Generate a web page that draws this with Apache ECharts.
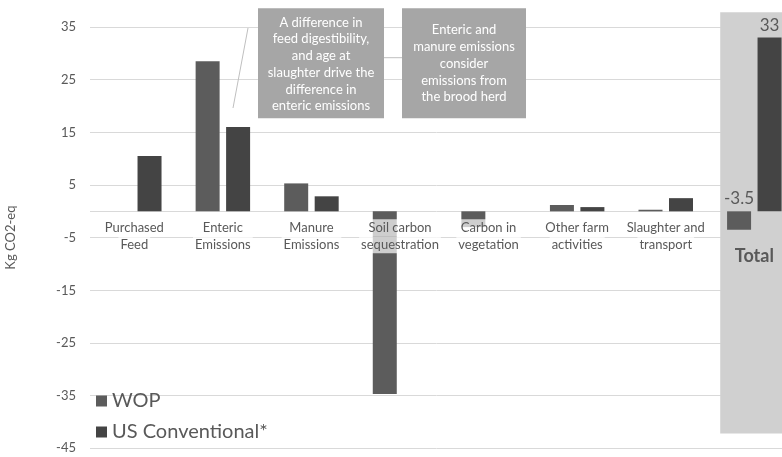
<!DOCTYPE html>
<html><head><meta charset="utf-8">
<script src="https://cdn.jsdelivr.net/npm/echarts@6/dist/echarts.min.js"></script>
<style>html,body{margin:0;padding:0;background:#fff}#c{width:782px;height:457px}</style>
</head><body><div id="c"></div>
<script>
const categories = ['Purchased\nFeed','Enteric\nEmissions','Manure\nEmissions','Soil carbon\nsequestration','Carbon in\nvegetation','Other farm\nactivities','Slaughter and\ntransport','Total'];
const wopValues = [0, 28.5, 5.3, -34.7, -3.0, 1.2, 0.3, -3.5];
const usValues = [10.5, 16.0, 2.85, 0, 0, 0.8, 2.5, 33];
const yTickLabels = [35, 25, 15, 5, -5, -15, -25, -35, -45];
const seriesNames = ['WOP', 'US Conventional*'];
const note1 = ['A difference in', 'feed digestibility,', 'and age at', 'slaughter drive the', 'difference in', 'enteric emissions'];
const note2 = ['Enteric and', 'manure emissions', 'consider', 'emissions from', 'the brood herd'];

const TXT = '#595959';
const FONT = 'Lato';
const totalIndex = categories.length - 1;
const yMin = -45, yMax = 35;

function withTotalLabel(arr) {
  return arr.map((v, i) => i === totalIndex ? { value: v, label: { show: true } } : v);
}

const chart = echarts.init(document.getElementById('c'), null, { renderer: 'canvas' });
const option = {
  animation: false,
  textStyle: { fontFamily: FONT },
  grid: { left: 90, right: -16.6, top: 27, bottom: 8.7, containLabel: false, outerBoundsMode: 'none' },
  legend: {
    orient: 'vertical', left: 96, top: 391, padding: 0, itemGap: 11,
    itemWidth: 11, itemHeight: 11, icon: 'rect',
    textStyle: { fontSize: 20, color: TXT, fontFamily: FONT },
    data: seriesNames
  },
  xAxis: {
    type: 'category', data: categories, z: 3, position: 'bottom',
    axisLine: { show: false, onZero: false }, axisTick: { show: false },
    axisLabel: {
      interval: 0, margin: 8,
      formatter: function (v) {
        if (v === 'Total') return '{t|Total}';
        return v.split('\n').map(s => '{n|' + s + '}').join('\n');
      },
      rich: {
        n: { fontSize: 13, lineHeight: 17, color: TXT, fontFamily: FONT, backgroundColor: 'rgba(255,255,255,0.7)', padding: [2, 2, 2, 2] },
        t: { fontSize: 18, fontWeight: 'bold', lineHeight: 74, color: TXT, fontFamily: FONT }
      }
    },
    splitLine: { show: false }
  },
  yAxis: {
    type: 'value', min: yMin, max: yMax,
    name: 'Kg CO2-eq', nameLocation: 'middle', nameGap: 73, nameRotate: 90,
    nameTextStyle: { fontSize: 13, color: TXT, fontFamily: FONT },
    axisLine: { show: false },
    axisTick: { show: false, customValues: yTickLabels.concat([0]) },
    axisLabel: { customValues: yTickLabels, fontSize: 13, color: TXT, margin: 14, fontFamily: FONT },
    splitLine: { show: true, lineStyle: { color: '#d9d9d9', width: 1 } }
  },
  series: [
    {
      name: seriesNames[0], type: 'bar', data: withTotalLabel(wopValues),
      barWidth: 24, barGap: '27%',
      itemStyle: { color: '#5c5c5c' },
      label: { show: false, position: 'top', distance: 4, fontSize: 17, color: TXT, fontFamily: FONT }
    },
    {
      name: seriesNames[1], type: 'bar', data: withTotalLabel(usValues),
      barWidth: 24, barGap: '27%',
      itemStyle: { color: '#444444' },
      label: { show: false, position: 'top', distance: 4, fontSize: 17, color: TXT, fontFamily: FONT }
    }
  ]
};
chart.setOption(option);

// place the category axis on the zero line
const yZeroPx = chart.convertToPixel({ yAxisIndex: 0 }, 0);
const yMinPx = chart.convertToPixel({ yAxisIndex: 0 }, yMin);

const cT = chart.convertToPixel({ xAxisIndex: 0 }, totalIndex);
const cS = chart.convertToPixel({ xAxisIndex: 0 }, totalIndex - 1);
const band = cT - cS;
const yTop = chart.convertToPixel({ yAxisIndex: 0 }, 37.8);
const yBot = chart.convertToPixel({ yAxisIndex: 0 }, -42.2);

function textEl(lines, cx, cy) {
  return {
    type: 'text', z: 6, x: cx, y: cy,
    style: { text: lines.join('\n'), fill: '#ffffff', fontSize: 13, fontFamily: FONT, lineHeight: 16.7, align: 'center', verticalAlign: 'middle' }
  };
}

chart.setOption({
  xAxis: { offset: yZeroPx - yMinPx },
  graphic: [
    { type: 'rect', z: 1, shape: { x: cT - 0.385 * band, y: yTop, width: 120, height: yBot - yTop }, style: { fill: '#d0d0d0' } },
    { type: 'line', z: 5, shape: { x1: 248, y1: 28, x2: 233, y2: 108 }, style: { stroke: '#bfbfbf', lineWidth: 1 } },
    { type: 'line', z: 5, shape: { x1: 384, y1: 57.7, x2: 402, y2: 57.7 }, style: { stroke: '#bfbfbf', lineWidth: 1 } },
    { type: 'rect', z: 5, shape: { x: 258, y: 8.3, width: 126, height: 110 }, style: { fill: '#a6a6a6' } },
    textEl(note1, 321, 64.3),
    { type: 'rect', z: 5, shape: { x: 402, y: 8.3, width: 124, height: 110 }, style: { fill: '#a6a6a6' } },
    textEl(note2, 464, 63.7)
  ]
});
</script>
</body></html>
